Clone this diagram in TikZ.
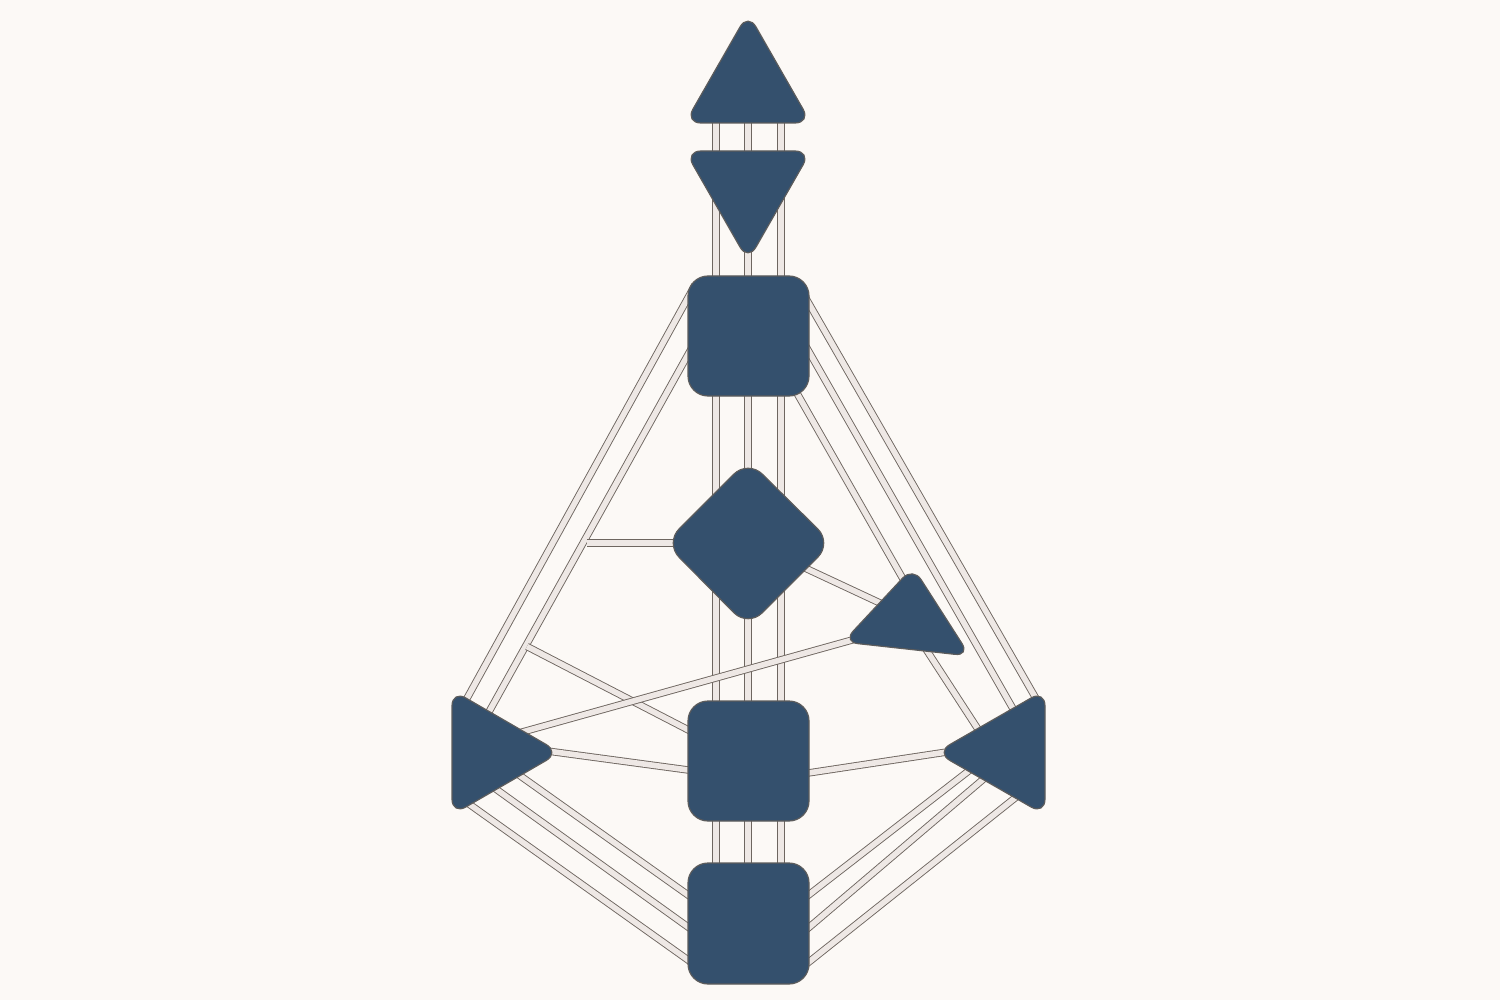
\documentclass[tikz,border=0pt]{standalone}
\usepackage{tikz}
\definecolor{bg}{HTML}{FCF9F6}
\definecolor{cfill}{HTML}{34506D}
\definecolor{cline}{HTML}{5C5C5C}
\definecolor{chfill}{HTML}{EEE8E5}
\definecolor{chline}{HTML}{6E6660}
\begin{document}
\begin{tikzpicture}[x=1pt,y=-1pt,
  channel/.style={draw=chline,line width=0.9pt,double=chfill,double distance=5.6pt},
  center/.style={fill=cfill,draw=cline,line width=1.2pt,line join=round}]
\fill[bg] (0,0) rectangle (1500,1000);
\useasboundingbox (0,0) rectangle (1500,1000);
% ---- coordinates (channel endpoints inside centres)
\foreach \c/\x in {a/716,b/748,c/781}{
  \coordinate (hd\c) at (\x,110);
  \coordinate (ajt\c) at (\x,175);
  \coordinate (ajb\c) at (\x,180);
  \coordinate (tht\c) at (\x,290);
  \coordinate (thb\c) at (\x,380);
  \coordinate (gt\c) at (\x,530);
  \coordinate (gb\c) at (\x,560);
  \coordinate (sat\c) at (\x,715);
  \coordinate (sab\c) at (\x,810);
  \coordinate (rt\c) at (\x,875);
}
% left side
\coordinate (thL1) at (695,285);   \coordinate (spL1) at (460,711);
\coordinate (thL2) at (695,342);   \coordinate (spL2) at (480,728);
\coordinate (brG) at (587,543);    \coordinate (gL) at (690,543);
\coordinate (brS) at (527,646.5);  \coordinate (saL1) at (700,736);
\coordinate (spH) at (490,741);    \coordinate (heL) at (870,635);
\coordinate (spS) at (540,750);    \coordinate (saL2) at (700,771.6);
\coordinate (spR1) at (462,799);   \coordinate (roL1) at (700,968.5);
\coordinate (spR2) at (480,777.6); \coordinate (roL2) at (700,935.6);
\coordinate (spR3) at (505,765);   \coordinate (roL3) at (700,903.5);
% right side
\coordinate (thR1) at (800,288);   \coordinate (soT1) at (1042,709);
\coordinate (thR2) at (800,336);   \coordinate (soT2) at (1020,721);
\coordinate (thR3) at (790,381);   \coordinate (heT) at (915,600);
\coordinate (heB) at (920,640);    \coordinate (soH) at (985,740);
\coordinate (gR) at (790,561);     \coordinate (heG) at (895,610);
\coordinate (saR) at (795,775);    \coordinate (soS) at (960,750);
\coordinate (roR1) at (797,904);   \coordinate (soR1) at (975,766);
\coordinate (roR2) at (797,937.6); \coordinate (soR2) at (1000,765);
\coordinate (roR3) at (797,971.5); \coordinate (soR3) at (1025,790);
% ---- channels
\foreach \c in {a,b,c}{
  \draw[channel] (hd\c) -- (ajt\c);
  \draw[channel] (ajb\c) -- (tht\c);
  \draw[channel] (thb\c) -- (gt\c);
  \draw[channel] (gb\c) -- (sat\c);
  \draw[channel] (sab\c) -- (rt\c);
}
\draw[channel] (thL1) -- (spL1);
\draw[channel] (thL2) -- (spL2);
\draw[channel] (brG) -- (gL);
\draw[channel] (brS) -- (saL1);
\draw[channel] (spR1) -- (roL1);
\draw[channel] (spR2) -- (roL2);
\draw[channel] (spR3) -- (roL3);
\draw[channel] (spS) -- (saL2);
\draw[channel] (spH) -- (heL);
\draw[channel] (thR1) -- (soT1);
\draw[channel] (thR2) -- (soT2);
\draw[channel] (thR3) -- (heT);
\draw[channel] (heB) -- (soH);
\draw[channel] (gR) -- (heG);
\draw[channel] (saR) -- (soS);
\draw[channel] (roR1) -- (soR1);
\draw[channel] (roR2) -- (soR2);
\draw[channel] (roR3) -- (soR3);
% ---- centres
\draw[center,rounded corners=16pt] (748,13) -- (811,123) -- (685,123) -- cycle;      % head
\draw[center,rounded corners=16pt] (685,151) -- (811,151) -- (748,261) -- cycle;      % ajna
\draw[center,rounded corners=20pt] (688,276) rectangle (809,396);                    % throat
\draw[center,rounded corners=20pt] (748,460) -- (832,543) -- (748,627) -- (665,543) -- cycle; % G
\draw[center,rounded corners=15pt] (913,567) -- (970,656) -- (843,642) -- cycle;      % heart
\draw[center,rounded corners=16pt] (452,690) -- (560,752.5) -- (452,815) -- cycle;    % spleen
\draw[center,rounded corners=16pt] (1045,690) -- (1045,815) -- (936,752.5) -- cycle;  % solar plexus
\draw[center,rounded corners=20pt] (688,701) rectangle (809,821);                    % sacral
\draw[center,rounded corners=20pt] (688,863) rectangle (809,984);                    % root
\end{tikzpicture}
\end{document}
